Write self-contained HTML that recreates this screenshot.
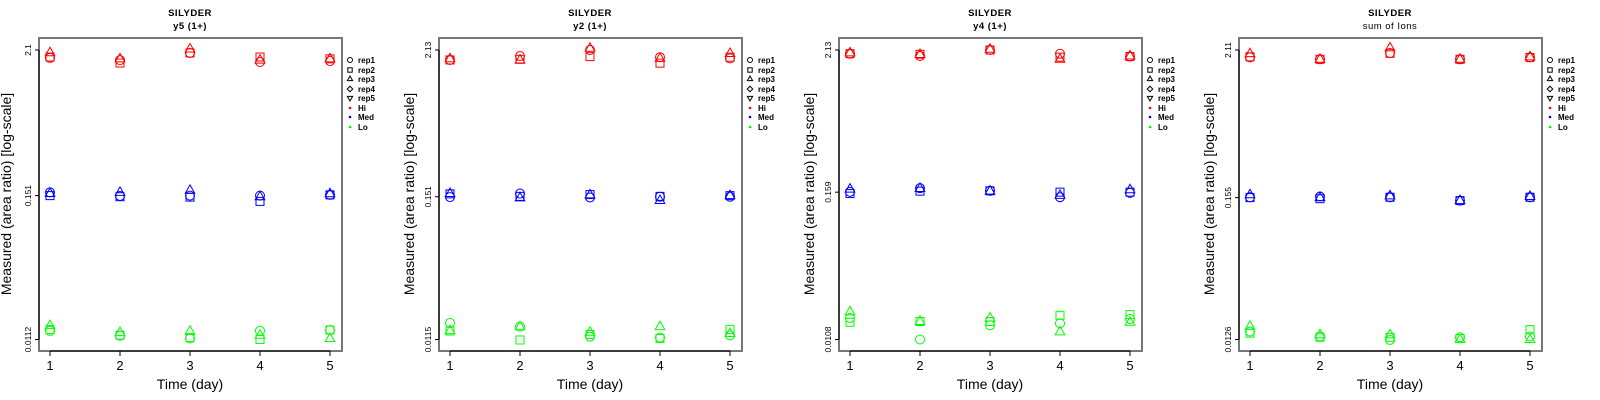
<!DOCTYPE html>
<html><head><meta charset="utf-8"><style>
html,body{margin:0;padding:0;background:#fff;}
svg{display:block;font-family:"Liberation Sans",sans-serif;}
</style></head><body>
<svg id="chart" width="1600" height="400" viewBox="0 0 1600 400" xmlns="http://www.w3.org/2000/svg"></svg>
<script>
const days = [1, 2, 3, 4, 5];
const titles = ["y5 (1+)", "y2 (1+)", "y4 (1+)", "sum of Ions"];
const yTickTop = [2.1, 2.13, 2.13, 2.11];
const yTickMid = [0.151, 0.151, 0.159, 0.155];
const yTickBot = [0.0112, 0.0115, 0.0108, 0.0126];
const yTickLabels = [["2.1","0.151","0.0112"],["2.13","0.151","0.0115"],["2.13","0.159","0.0108"],["2.11","0.155","0.0126"]];
// [rep1 circle, rep2 square, rep3 triangle] x days
const p1Hi = [[1.82,1.75,1.99,1.69,1.72],[1.85,1.66,1.99,1.85,1.79],[2.0,1.79,2.14,1.75,1.79]];
const p1Med = [[0.160,0.150,0.151,0.151,0.153],[0.151,0.148,0.147,0.136,0.153],[0.157,0.160,0.166,0.148,0.156]];
const p1Lo = [[0.0131,0.0120,0.0114,0.0131,0.0133],[0.0134,0.0121,0.0116,0.0112,0.0133],[0.0144,0.0127,0.0130,0.0121,0.0114]];
const p2Hi = [[1.78,1.91,2.13,1.87,1.83],[1.78,1.80,1.89,1.68,1.87],[1.82,1.78,2.2,1.83,2.0]];
const p2Med = [[0.150,0.160,0.149,0.151,0.151],[0.159,0.152,0.157,0.152,0.154],[0.160,0.148,0.156,0.141,0.154]];
const p2Lo = [[0.0155,0.0145,0.0121,0.0119,0.0124],[0.0134,0.0114,0.0126,0.0117,0.0138],[0.0135,0.0145,0.0131,0.0145,0.0128]];
const p3Hi = [[1.99,1.91,2.13,1.99,1.89],[1.99,1.97,2.13,1.87,1.89],[2.02,1.96,2.16,1.80,1.91]];
const p3Med = [[0.160,0.171,0.163,0.145,0.157],[0.155,0.162,0.163,0.159,0.159],[0.168,0.170,0.162,0.150,0.166]];
const p3Lo = [[0.0160,0.0108,0.0140,0.0145,0.0157],[0.0148,0.0150,0.0150,0.0168,0.0170],[0.0179,0.0150,0.0160,0.0124,0.0148]];
const p4Hi = [[1.85,1.79,2.0,1.79,1.85],[1.87,1.79,1.99,1.79,1.85],[1.98,1.79,2.19,1.79,1.87]];
const p4Med = [[0.156,0.158,0.156,0.147,0.156],[0.155,0.152,0.156,0.147,0.156],[0.163,0.155,0.160,0.147,0.158]];
const p4Lo = [[0.0145,0.0133,0.0125,0.0131,0.0133],[0.0141,0.0131,0.0131,0.0128,0.0150],[0.0159,0.0137,0.0137,0.0126,0.0126]];
const panelData = [[p1Hi,p1Med,p1Lo],[p2Hi,p2Med,p2Lo],[p3Hi,p3Med,p3Lo],[p4Hi,p4Med,p4Lo]];
const groupNames = ["Hi","Med","Lo"];
const groupColors = ["#ff0000","#0000ff","#00ff00"];
const repNames = ["rep1","rep2","rep3","rep4","rep5"];

const NS = "http://www.w3.org/2000/svg";
const svg = document.getElementById("chart");
function mk(tag, attrs, parent, text){
  const e = document.createElementNS(NS, tag);
  for (const k in attrs) e.setAttribute(k, attrs[k]);
  if (text !== undefined) e.textContent = text;
  parent.appendChild(e);
  return e;
}
function marker(g, shape, x, y, color, s){
  let e;
  if (shape === 0) e = mk("circle",{cx:x,cy:y,r:4.5*s,fill:"none",stroke:color,"stroke-width":1},g);
  else if (shape === 1) e = mk("rect",{x:x-4*s,y:y-4*s,width:8*s,height:8*s,fill:"none",stroke:color,"stroke-width":1},g);
  else if (shape === 2) e = mk("polygon",{points:`${x},${y-5.5*s} ${x-4.8*s},${y+3*s} ${x+4.8*s},${y+3*s}`,fill:"none",stroke:color,"stroke-width":1},g);
  else if (shape === 3) e = mk("polygon",{points:`${x},${y-5*s} ${x+5*s},${y} ${x},${y+5*s} ${x-5*s},${y}`,fill:"none",stroke:color,"stroke-width":1},g);
  else e = mk("polygon",{points:`${x},${y+5.5*s} ${x-4.8*s},${y-3*s} ${x+4.8*s},${y-3*s}`,fill:"none",stroke:color,"stroke-width":1},g);
  return e;
}

for (let p = 0; p < 4; p++){
  const ox = p*400;
  const g = mk("g",{transform:`translate(${ox},0)`},svg);
  
  
  const left=39, right=342, top=38, bottom=351;
  const xs = d => 50 + (d-1)*70;
  const lt = Math.log10(yTickTop[p]), lb = Math.log10(yTickBot[p]);
  const ys = v => 50 + (lt - Math.log10(v)) / (lt - lb) * 289.5;

  const box = mk("rect",{x:left,y:top,width:right-left,height:bottom-top,fill:"none",stroke:"#777","stroke-width":2},g);
  
  

  const t1 = mk("text",{x:190,y:16,"text-anchor":"middle","font-size":"9.5","font-weight":"bold","letter-spacing":"0.5"},g,"SILYDER");
  
  
  const t2 = mk("text",{x:190,y:29,"text-anchor":"middle","font-size":"9.5","font-weight":p<3?"bold":"normal","letter-spacing":"0.5"},g,titles[p]);
  
  

  // x axis
  const xa = mk("g",{},g);
  
  
  mk("line",{x1:xs(days[0]),x2:xs(days[days.length-1]),y1:bottom,y2:bottom,stroke:"#000","stroke-width":1},xa);
  days.forEach(d=>{
    mk("line",{x1:xs(d),x2:xs(d),y1:bottom,y2:bottom+5,stroke:"#000"},xa);
    const tl = mk("text",{x:xs(d),y:370,"text-anchor":"middle","font-size":"13"},xa,String(d));
    
    
  });
  const xt = mk("text",{x:190,y:389,"text-anchor":"middle","font-size":"14"},g,"Time (day)");
  
  

  // y axis
  const ya = mk("g",{},g);
  
  
  const tv = [yTickTop[p], yTickMid[p], yTickBot[p]];
  mk("line",{x1:left,x2:left,y1:ys(tv[0]),y2:ys(tv[2]),stroke:"#000"},ya);
  tv.forEach((v,i)=>{
    const y = ys(v);
    mk("line",{x1:left-4,x2:left,y1:y,y2:y,stroke:"#000"},ya);
    const tl = mk("text",{x:0,y:0,"text-anchor":"middle","font-size":"8.5",transform:`translate(${left-8},${y}) rotate(-90)`},ya,yTickLabels[p][i]);
    
    
  });
  const yt = mk("text",{x:0,y:0,"text-anchor":"middle","font-size":"14",transform:`translate(${11+(p>0?3:0)},194) rotate(-90)`},g,"Measured (area ratio) [log-scale]");
  
  

  // points
  const data = panelData[p];
  data.forEach((grp, gi)=>{
    const sg = mk("g",{},g);
    
    
    grp.forEach((rep, ri)=>{
      rep.forEach((v, di)=>{
        const m = marker(sg, ri, xs(days[di]), ys(v), groupColors[gi], 1);
        
        
      });
    });
  });

  // legend
  const lg = mk("g",{},g);
  
  
  const rows = [60,70,79,89,98,108,117,127];
  repNames.forEach((r,i)=>{
    const e = mk("g",{},lg);
    
    
    marker(e, i, 350, rows[i], "#000", 0.55);
    mk("text",{x:358,y:rows[i]+3,"font-size":"8","font-weight":"bold"},e,r);
  });
  groupNames.forEach((n,i)=>{
    const e = mk("g",{},lg);
    
    
    mk("circle",{cx:350,cy:rows[5+i],r:1.3,fill:groupColors[i]},e);
    mk("text",{x:358,y:rows[5+i]+3,"font-size":"8","font-weight":"bold"},e,n);
  });
}
</script>
</body></html>
